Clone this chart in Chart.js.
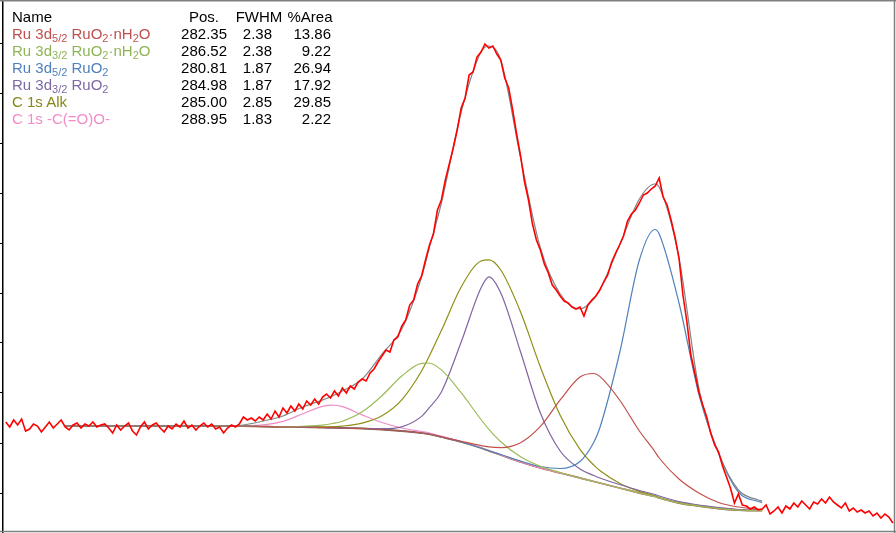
<!DOCTYPE html>
<html><head><meta charset="utf-8">
<script src="https://cdn.jsdelivr.net/npm/chart.js@4.4.0/dist/chart.umd.min.js"></script>
<style>
html,body{margin:0;padding:0;background:#fff;}
#wrap{position:relative;width:896px;height:533px;overflow:hidden;}
#c{position:absolute;left:0;top:0;}
#tbl{position:absolute;left:0;top:0;font-family:"Liberation Sans",Arial,sans-serif;font-size:15px;line-height:17px;}
.row{position:absolute;left:0;width:340px;height:17px;}
.row span{position:absolute;top:0;white-space:nowrap;}
.n{left:12px;}
.p{left:167px;width:60px;text-align:right;color:#000;}
.f{left:230px;width:42px;text-align:right;color:#000;}
.a{left:278px;width:53px;text-align:right;color:#000;}
.hp{left:178px;width:52px;text-align:center;}
.hf{left:233px;width:52px;text-align:center;}
.ha{left:283px;width:54px;text-align:center;}
sub{font-size:11px;vertical-align:-3px;line-height:0;}
</style></head>
<body>
<div id="wrap">
<canvas id="c" width="896" height="533"></canvas>
<div id="tbl"></div>
</div>
<script>
// measured spectrum: binding energy start/step (eV) and intensity (arb. units)
const dataStartBE = 297.2, dataStepBE = 0.1;
const dataCounts = [171,166,173,168,174,162,164,169,167,161,166,171,165,169,173,166,
163,168,170,165,169,167,171,166,168,169,165,160,168,163,167,170,162,158,166,171,164,168,170,165,161,167,164,169,166,172,165,168,163,167,170,166,169,164,166,160,165,168,166,169,
176,173,175,172,176,173,179,174,182,176,185,180,187,182,189,184,192,188,194,189,196,199,195,202,197,205,200,207,204,211,214,212,220,224,231,237,243,241,253,256,
267,273,288,293,309,317,333,348,359,383,393,413,429,445,463,485,495,518,521,536,541,549,545,547,539,533,515,505,483,459,437,411,393,369,353,343,329,320,308,303,
297,292,290,286,284,286,277,288,293,297,303,311,318,331,340,348,357,372,379,383,390,398,400,404,407,415,396,388,373,356,335,298,271,238,220,201,188,176,160,148,
141,127,116,105,90,99,88,87,84,86,83,84,88,79,82,86,80,87,84,90,86,92,88,84,91,89,94,90,96,91,88,85,90,82,85,81,83,80,82,77,80,75,79,76,70];

// fit region energies (eV)
const fitBE = [295.7,295.2,294.7,294.2,293.7,293.2,292.7,292.2,291.7,291.2,290.7,290.2,289.7,289.2,288.95,288.7,288.2,287.7,287.2,286.7,286.52,286.2,285.7,285.2,285.0,284.7,284.2,283.7,283.2,282.7,282.35,282.2,281.7,281.2,280.81,280.7,280.2,279.7,279.2,278.7,278.2,278.1];

const background = [167,167,167,167,167,167,167,167,167,167,166.5,166,166,165.5,165.3,165,164.5,163.5,162,160,159,156,151,145,142.2,138,131,125,120,115,111.5,110,105,100,96.5,95,90,87,84.5,83,82.5,82.5];
const envelope = [167,167,167,167,167,167,167,167,167,168,172,177,186,193,197,202,214,239,264,316,343,390,481,541,547,533,435,345,299,284,294,303,348,394,409,406,335,205,140,103,93,92];
const ru5Hyd = [167,167,167,167,167,167,167,167,167,167,166.5,166,166,165.5,165.3,165,164.5,163.5,162,160,159,156.2,151.7,147.4,146.1,145.4,150.3,166.6,193.1,216,219.5,216.6,193,162,141.5,135,114,100,90.5,86,84,83.5];
const ru3Hyd = [167,167,167,167,167,167,167,167,167,167,166.5,166.2,166.7,167.9,169.5,171.8,181.2,197.3,217,229.7,230,223.1,200.3,173.5,163.7,151.3,136.2,126.7,120.5,115,111.5,110,105,100,96.5,95,90,87,84.5,83,82.5,82.5];
const ru5Ox = [167,167,167,167,167,167,167,167,167,167,166.5,166,166,165.5,165.3,165,164.5,163.5,162,160,159,156,151,145,142.2,138.5,132,126.5,124.5,131.5,150.8,165,240,333,363.5,359,290,199,139.5,101,91.5,90.5];
const ru3Ox = [167,167,167,167,167,167,167,167,167,167,166.5,166,166,165.5,165.3,165,164.6,164.3,166.2,176.6,184.6,201,251,305,316.2,300,241,180,142,124,117.5,115,108.5,102.5,98.5,97,91.5,88,85.5,83.5,83,83];
const c1sAlk = [167,167,167,167,167,167,167,167,167,167,166.5,166,166.2,166.1,166.4,166.9,169.9,177.3,193.2,222,235.8,262.4,306,332,333.2,323,281,226,177.8,143.7,127.8,122.5,109.8,101.6,97.2,95.5,90.2,87,84.5,83,82.5,82.5];
const c1sEster = [167,167,167,167,167,167,167,167,167.1,167.4,168.2,171.6,179.3,186.6,187.8,186.3,178.1,170.5,165,161.5,160.2,156.8,151.5,145.3,142.4,138,131,125,120,115,111.5,110,105,100,96.5,95,90,87,84.5,83,82.5,82.5];

const tableHead = ["Name","Pos.","FWHM","%Area"];
const compNames = ["Ru 3d<sub>5/2</sub> RuO<sub>2</sub>·nH<sub>2</sub>O","Ru 3d<sub>3/2</sub> RuO<sub>2</sub>·nH<sub>2</sub>O","Ru 3d<sub>5/2</sub> RuO<sub>2</sub>","Ru 3d<sub>3/2</sub> RuO<sub>2</sub>","C 1s Alk","C 1s -C(=O)O-"];
const compPos = ["282.35","286.52","280.81","284.98","285.00","288.95"];
const compFWHM = ["2.38","2.38","1.87","1.87","2.85","1.83"];
const compArea = ["13.86","9.22","26.94","17.92","29.85","2.22"];
const compColors = ["#c0504d","#9bbb59","#4f81bd","#8064a2","#8f8f17","#f08cc8"];
const textColors = ["#c0504d","#8fb455","#4f81bd","#7d68a5","#85851a","#f08cc8"];

// table
const tbl = document.getElementById('tbl');
let html = '<div class="row" style="top:8px;color:#000"><span class="n">'+tableHead[0]+'</span><span class="hp">'+tableHead[1]+'</span><span class="hf">'+tableHead[2]+'</span><span class="ha">'+tableHead[3]+'</span></div>';
for (let k=0;k<compNames.length;k++){
  html += '<div class="row" style="top:'+(25+17*k)+'px"><span class="n" style="color:'+textColors[k]+'">'+compNames[k]+'</span><span class="p">'+compPos[k]+'</span><span class="f">'+compFWHM[k]+'</span><span class="a">'+compArea[k]+'</span></div>';
}
tbl.innerHTML = html;

const dataPts = dataCounts.map((v,i)=>({x: +(dataStartBE - i*dataStepBE).toFixed(2), y: v}));
const fitPts = arr => fitBE.map((x,i)=>({x, y: arr[i]}));

const comps = [ru5Hyd, ru3Hyd, ru5Ox, ru3Ox, c1sAlk, c1sEster];
const datasets = [
  {data: dataPts, borderColor:'#ff0000', borderWidth:1.6, tension:0},
  {data: fitPts(envelope), borderColor:'#7f8585', borderWidth:1.2, cubicInterpolationMode:'monotone'}
];
comps.forEach((c,k)=>datasets.push({data: fitPts(c), borderColor: compColors[k], borderWidth:1.2, cubicInterpolationMode:'monotone'}));
datasets.push({data: fitPts(background), borderColor:'#86632f', borderWidth:1.8, cubicInterpolationMode:'monotone'});

const framePlugin = {
  id:'frame',
  afterDraw(chart){
    const ctx = chart.ctx;
    ctx.save();
    ctx.strokeStyle = '#808080';
    ctx.lineWidth = 1.5;
    ctx.beginPath();
    ctx.moveTo(0,0.75); ctx.lineTo(896,0.75);
    ctx.moveTo(894.5,0); ctx.lineTo(894.5,533);
    ctx.moveTo(0,531.5); ctx.lineTo(896,531.5);
    ctx.stroke();
    ctx.restore();
  }
};

new Chart(document.getElementById('c'), {
  type:'line',
  data:{datasets},
  options:{
    responsive:false, animation:false, devicePixelRatio:1,
    layout:{padding:0},
    plugins:{legend:{display:false}, tooltip:{enabled:false}},
    elements:{point:{radius:0}},
    scales:{
      x:{type:'linear', reverse:true, min:274.72, max:297.27, display:false},
      y:{type:'linear', min:60, max:593,
         ticks:{display:false, stepSize:50, includeBounds:false},
         grid:{drawOnChartArea:false, drawTicks:true, tickLength:3, color:'#000', lineWidth:1},
         border:{display:true, color:'#000', width:1.5}}
    }
  },
  plugins:[framePlugin]
});
</script>
</body></html>
